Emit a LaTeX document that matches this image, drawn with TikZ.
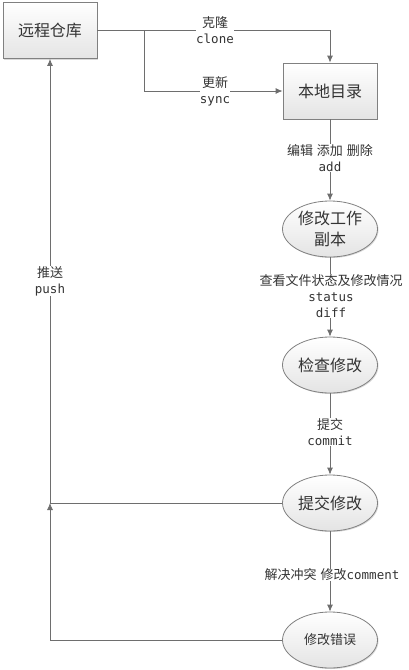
\documentclass[tikz,border=0pt]{standalone}
\usepackage{fontspec}
\setmainfont{Noto Sans CJK SC}
\setmonofont{DejaVu Sans Mono}
\usetikzlibrary{arrows.meta,shapes.geometric,shadows}
\definecolor{linec}{HTML}{6E6E6E}
\definecolor{bordc}{HTML}{808080}
\definecolor{txtc}{HTML}{333333}
\definecolor{botc}{HTML}{E4E4E4}
\newcommand\mymono[1]{{\ttfamily\fontsize{12.5}{16}\selectfont #1}}
\tikzset{
  boxnode/.style={draw=bordc, line width=0.8pt, rectangle, minimum width=94pt, minimum height=56pt,
    inner sep=0pt, top color=white, bottom color=botc, text=txtc,
    font=\fontsize{16}{19}\selectfont,
    drop shadow={shadow xshift=1pt, shadow yshift=-1pt, opacity=0.25, fill=black!60}},
  ellnode/.style={draw=bordc, line width=0.8pt, ellipse, minimum width=95pt, minimum height=56pt,
    inner sep=0pt, top color=white, bottom color=botc, text=txtc, align=center,
    font=\fontsize{16}{21}\selectfont,
    drop shadow={shadow xshift=1pt, shadow yshift=-1pt, opacity=0.25, fill=black!60}},
  conn/.style={draw=linec, line width=0.8pt},
  arr/.style={conn, -{Latex[length=7pt,width=6pt]}},
  lbl/.style={fill=white, inner sep=0pt, text=txtc, align=center, font=\fontsize{13}{16}\selectfont}
}
\begin{document}
\begin{tikzpicture}[x=1pt,y=-1pt]
\useasboundingbox (0,0) rectangle (408,670);
\node[boxnode] (remote) at (50,30.5) {远程仓库};
\node[boxnode] (local) at (330,91) {本地目录};
\node[ellnode] (e1) at (330,229) {修改工作\\副本};
\node[ellnode] (e2) at (330,365) {检查修改};
\node[ellnode] (e3) at (330,503) {提交修改};
\node[ellnode, font=\fontsize{13}{16}\selectfont] (e4) at (330,640) {修改错误};

\coordinate (br) at (144,30.5);
\coordinate (jn) at (remote.south |- e3.west);

\draw[arr] (remote.east) -| (local.north);
\draw[arr] (br) |- (local.west);
\draw[arr] (local.south) -- (e1.north);
\draw[arr] (e1.south) -- (e2.north);
\draw[arr] (e2.south) -- (e3.north);
\draw[arr] (e3.south) -- (e4.north);
\draw[arr] (e3.west) -| (remote.south);
\draw[arr] (e4.west) -| (jn);

\node[lbl] (l1) at (215,30.5) {克隆\\\mymono{clone}};
\node[lbl] (l2) at (215,91.5) {更新\\\mymono{sync}};
\node[lbl] (l3) at (330,158) {编辑\hspace{4pt}添加\hspace{4pt}删除\\\mymono{add}};
\node[lbl] (l4) at (331,296) {查看文件状态及修改情况\\\mymono{status}\\\mymono{diff}};
\node[lbl] (l5) at (330,432) {提交\\\mymono{commit}};
\node[lbl] (l6) at (332,575) {解决冲突\hspace{4pt}修改\mymono{comment}};
\node[lbl] (l7) at (50,281) {推送\\\mymono{push}};
\end{tikzpicture}
\end{document}
